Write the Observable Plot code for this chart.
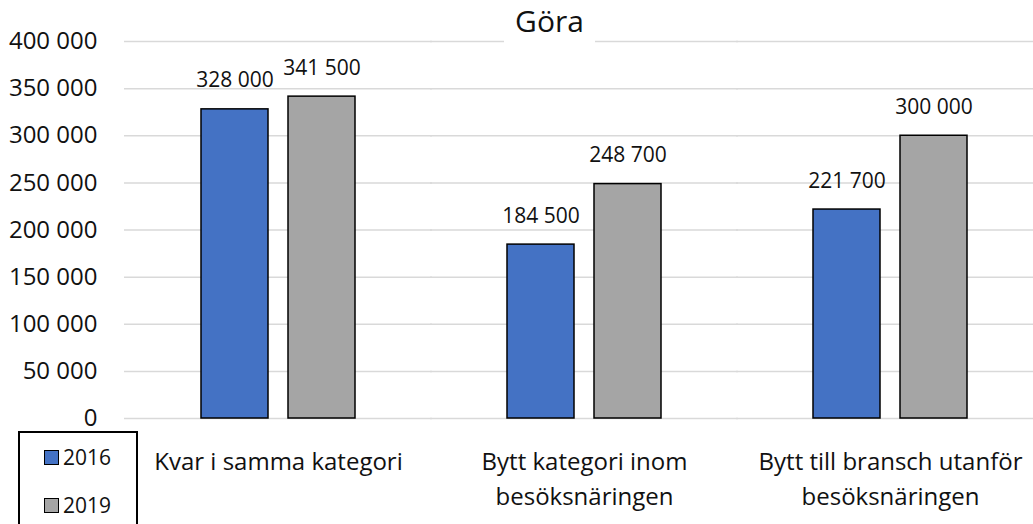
<!DOCTYPE html>
<html>
<head>
<meta charset="utf-8">
<script src="https://cdn.jsdelivr.net/npm/d3@7"></script>
<script src="https://cdn.jsdelivr.net/npm/@observablehq/plot@0.6"></script>
<style>
  html, body { margin: 0; padding: 0; background: #fff; }
  #wrap { position: relative; width: 1033px; height: 524px; overflow: hidden; font-family: "Open Sans", sans-serif; color: #111; }
  #title { position: absolute; left: 504px; top: 0; width: 91px; height: 46px; background: #fff; text-align: center; font-size: 30px; line-height: normal; }
  #legend { position: absolute; left: 18px; top: 431px; width: 116px; height: 120px; border: 2px solid #000; background: #fff; }
  .item { position: absolute; left: 24px; height: 24px; display: flex; align-items: center; font-size: 21px; }
  .sw { width: 13px; height: 13px; border: 1.5px solid #000; margin-right: 4px; }
</style>
</head>
<body>
<div id="wrap">
  <div id="chart"></div>
  <div id="title">Göra</div>
  <div id="legend"></div>
</div>
<script>
const categories = ["Kvar i samma kategori", "Bytt kategori inom besöksnäringen", "Bytt till bransch utanför besöksnäringen"];
const categoryLabels = ["Kvar i samma kategori", "Bytt kategori inom\nbesöksnäringen", "Bytt till bransch utanför\nbesöksnäringen"];
const years = ["2016", "2019"];
const values2016 = [328000, 184500, 221700];
const values2019 = [341500, 248700, 300000];
const yTicks = [0, 50000, 100000, 150000, 200000, 250000, 300000, 350000, 400000];
const colors = ["#4472C4", "#A5A5A5"];

const data = [];
categories.forEach((c, i) => {
  data.push({category: c, year: "2016", value: values2016[i]});
  data.push({category: c, year: "2019", value: values2019[i]});
});

const fmt = d3.formatLocale({decimal: ",", thousands: "\u00a0", grouping: [3], currency: ["", " kr"]}).format(",");
const labelOf = c => categoryLabels[categories.indexOf(c)];

const plot = Plot.plot({
  width: 1033,
  height: 524,
  marginLeft: 125,
  marginRight: 0,
  marginTop: 41,
  marginBottom: 106,
  style: {fontFamily: "Open Sans, sans-serif", fontSize: "24px", color: "#111", background: "transparent"},
  fx: {domain: categories, paddingInner: 0.497, paddingOuter: 0.232, align: 0.535, label: null},
  x: {domain: years, paddingInner: 0.23, paddingOuter: 0, axis: null},
  y: {domain: [0, 400000], label: null},
  color: {domain: years, range: colors},
  marks: [
    Plot.ruleY(yTicks, {stroke: "#d9d9d9", strokeWidth: 1.5, insetLeft: -77, insetRight: -77}),
    Plot.axisY(yTicks, {tickSize: 0, tickPadding: 104, tickFormat: fmt, fontSize: 24, label: null}),
    Plot.axisFx({anchor: "bottom", tickSize: 0, tickPadding: 27, tickFormat: labelOf, lineHeight: 1.46, fontSize: 24, label: null}),
    Plot.barY(data, {fx: "category", x: "year", y: "value", fill: "year", stroke: "#000", strokeWidth: 1.5}),
    Plot.text(data, {fx: "category", x: "year", y: "value", text: d => fmt(d.value), lineAnchor: "bottom", dy: -22, fontSize: 21, fill: "#111"})
  ]
});
document.getElementById("chart").appendChild(plot);

const colorScale = plot.scale("color");
const legend = document.getElementById("legend");
const tops = [12, 60];
years.forEach((y, i) => {
  const item = document.createElement("div");
  item.className = "item";
  item.style.top = tops[i] + "px";
  const sw = document.createElement("span");
  sw.className = "sw";
  sw.style.background = colorScale.apply(y);
  item.appendChild(sw);
  item.appendChild(document.createTextNode(y));
  legend.appendChild(item);
});
</script>
</body>
</html>
